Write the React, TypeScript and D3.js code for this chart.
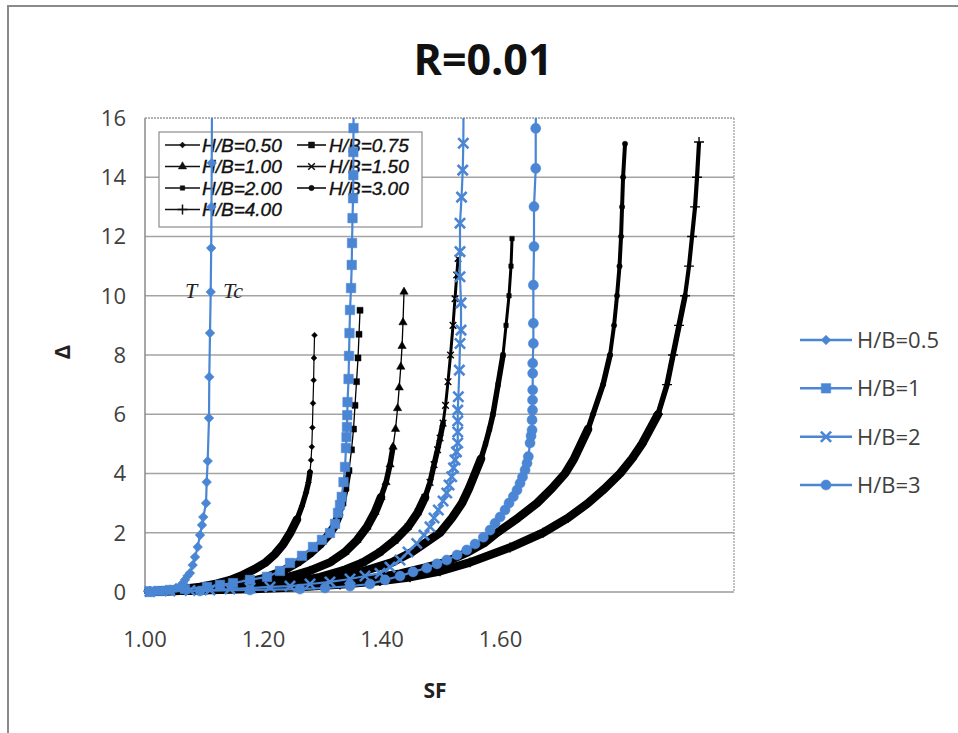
import React from 'react';
import * as d3 from 'd3';

// ---------------- data ----------------
const xTickValues = [1.0, 1.2, 1.4, 1.6];
const yTickValues = [0, 2, 4, 6, 8, 10, 12, 14, 16];
const xMin = 1.0;
const xMax = 1.994;

// black series (SF, Δ)
const sfHB050 = [1.0051, 1.0338, 1.0641, 1.0928, 1.1215, 1.1435, 1.1654, 1.1857, 1.2025, 1.2194, 1.2329, 1.2447, 1.2565, 1.265, 1.2717, 1.2759, 1.2785, 1.2802, 1.2815, 1.2825, 1.2835, 1.2846, 1.2852, 1.2861];
const dHB050 = [0.02, 0.05, 0.1, 0.17, 0.28, 0.4, 0.58, 0.78, 0.98, 1.28, 1.6, 1.98, 2.45, 2.9, 3.35, 3.7, 4.05, 4.45, 4.9, 5.55, 6.37, 7.15, 7.9, 8.67];

const sfHB075 = [1.0084, 1.0506, 1.0928, 1.135, 1.1688, 1.2025, 1.2312, 1.2582, 1.2785, 1.2954, 1.3089, 1.319, 1.3274, 1.3342, 1.3392, 1.3443, 1.3485, 1.3519, 1.3544, 1.357, 1.3595, 1.3612, 1.3629];
const dHB075 = [0.02, 0.06, 0.12, 0.2, 0.3, 0.48, 0.7, 1.0, 1.3, 1.6, 1.9, 2.2, 2.6, 3.0, 3.5, 4.1, 4.8, 5.5, 6.3, 7.1, 7.9, 8.7, 9.51];

const sfHB100 = [1.0084, 1.0591, 1.1097, 1.1603, 1.2025, 1.2447, 1.2785, 1.3122, 1.3376, 1.3578, 1.3747, 1.3882, 1.3983, 1.4068, 1.4135, 1.4186, 1.4228, 1.4262, 1.429, 1.4317, 1.4338, 1.4354, 1.4371];
const dHB100 = [0.02, 0.06, 0.12, 0.22, 0.35, 0.52, 0.72, 1.0, 1.35, 1.75, 2.2, 2.7, 3.2, 3.7, 4.3, 4.9, 5.5, 6.2, 6.9, 7.6, 8.3, 9.1, 10.13];

const sfHB150 = [1.0084, 1.0759, 1.1435, 1.2025, 1.2532, 1.2954, 1.3376, 1.3679, 1.3966, 1.4219, 1.4439, 1.4608, 1.4726, 1.481, 1.4878, 1.4937, 1.4979, 1.503, 1.5072, 1.5114, 1.5156, 1.5198, 1.5232, 1.5261, 1.5283];
const dHB150 = [0.02, 0.06, 0.12, 0.22, 0.35, 0.5, 0.75, 1.0, 1.35, 1.75, 2.2, 2.7, 3.2, 3.7, 4.3, 4.8, 5.2, 5.7, 6.3, 7.1, 8.0, 9.0, 9.9, 10.7, 11.26];

const sfHB200 = [1.0084, 1.0928, 1.1688, 1.2363, 1.2869, 1.3291, 1.3764, 1.4169, 1.4506, 1.4759, 1.4979, 1.5181, 1.535, 1.5468, 1.557, 1.5671, 1.5747, 1.5814, 1.5873, 1.5958, 1.6042, 1.6093, 1.6143, 1.6177, 1.6194];
const dHB200 = [0.02, 0.06, 0.13, 0.24, 0.37, 0.5, 0.75, 1.0, 1.35, 1.7, 2.0, 2.5, 3.0, 3.5, 4.0, 4.5, 5.0, 5.5, 6.0, 7.0, 8.0, 9.0, 10.0, 11.0, 11.93];

const sfHB300 = [1.0084, 1.1266, 1.2616, 1.3291, 1.3797, 1.4304, 1.4726, 1.5063, 1.5451, 1.5722, 1.5941, 1.6295, 1.6616, 1.6869, 1.7089, 1.7241, 1.7359, 1.7477, 1.7561, 1.773, 1.7848, 1.7916, 1.7966, 1.8008, 1.8034, 1.8051, 1.8068, 1.8101];
const dHB300 = [0.02, 0.09, 0.22, 0.33, 0.45, 0.62, 0.82, 1.0, 1.35, 1.65, 2.0, 2.5, 3.0, 3.5, 4.0, 4.5, 5.0, 5.5, 6.0, 7.0, 8.0, 9.0, 10.0, 11.0, 12.0, 13.0, 14.0, 15.13];

const sfHB400 = [1.0084, 1.1772, 1.2616, 1.3291, 1.3966, 1.4473, 1.4979, 1.5485, 1.616, 1.6717, 1.7139, 1.7477, 1.7764, 1.8017, 1.8219, 1.8388, 1.8658, 1.881, 1.8911, 1.9013, 1.9114, 1.9181, 1.9232, 1.9283, 1.9316, 1.935];
const dHB400 = [0.02, 0.1, 0.17, 0.25, 0.37, 0.5, 0.7, 1.0, 1.5, 2.0, 2.5, 3.0, 3.5, 4.0, 4.5, 5.0, 6.0, 7.0, 8.0, 9.0, 10.0, 11.0, 12.0, 13.0, 14.0, 15.19];

// blue series (SF, Δ)
const sfB05 = [1.0051, 1.0169, 1.0304, 1.0422, 1.0523, 1.0591, 1.0641, 1.0675, 1.0717, 1.0759, 1.0805, 1.0844, 1.0889, 1.0928, 1.0962, 1.0984, 1.103, 1.1041, 1.1058, 1.108, 1.1085, 1.1097, 1.1109, 1.1117, 1.1122, 1.1126, 1.1131];
const dB05 = [0.03, 0.03, 0.05, 0.08, 0.14, 0.2, 0.3, 0.41, 0.54, 0.64, 0.91, 1.18, 1.52, 1.92, 2.26, 2.53, 3.0, 3.71, 4.42, 5.87, 7.26, 8.74, 10.13, 11.61, 13.0, 14.48, 16.6];

const sfB1 = [1.0084, 1.0253, 1.0422, 1.0675, 1.1046, 1.1266, 1.1485, 1.1772, 1.2059, 1.2278, 1.2447, 1.265, 1.2835, 1.2987, 1.3122, 1.3207, 1.3257, 1.3291, 1.332, 1.335, 1.3376, 1.3392, 1.3401, 1.3409, 1.3413, 1.3418, 1.3435, 1.3443, 1.3451, 1.346, 1.3477, 1.3489, 1.3494, 1.3502, 1.3511, 1.3516, 1.3516, 1.3519, 1.3521];
const dB1 = [0.0, 0.034, 0.068, 0.1, 0.17, 0.24, 0.3, 0.41, 0.51, 0.71, 0.98, 1.22, 1.52, 1.76, 1.99, 2.3, 2.67, 2.94, 3.21, 3.71, 4.22, 4.86, 5.23, 5.57, 5.97, 6.41, 7.19, 7.97, 8.74, 9.52, 10.26, 11.04, 11.78, 12.62, 13.29, 14.07, 14.85, 15.66, 16.68];

const sfB2 = [1.0084, 1.0422, 1.0759, 1.1097, 1.1435, 1.1772, 1.211, 1.2447, 1.2785, 1.3122, 1.346, 1.3713, 1.3966, 1.4135, 1.4304, 1.4439, 1.4586, 1.4709, 1.481, 1.4878, 1.495, 1.503, 1.5092, 1.5131, 1.5176, 1.5207, 1.5232, 1.5257, 1.5278, 1.5278, 1.5278, 1.5278, 1.5288, 1.5305, 1.5316, 1.5333, 1.5333, 1.5316, 1.5316, 1.5316, 1.5342, 1.5362, 1.5372, 1.5376];
const dB2 = [0.017, 0.034, 0.05, 0.068, 0.1, 0.135, 0.17, 0.2, 0.27, 0.34, 0.44, 0.54, 0.63, 0.84, 1.08, 1.35, 1.64, 1.92, 2.2, 2.5, 2.77, 3.07, 3.34, 3.61, 3.89, 4.19, 4.46, 4.73, 5.03, 5.4, 5.77, 6.14, 6.59, 7.49, 8.39, 8.84, 9.76, 10.64, 11.49, 12.45, 13.33, 14.24, 15.15, 16.6];

const sfB3 = [1.0084, 1.0928, 1.1772, 1.2616, 1.3038, 1.346, 1.3797, 1.4051, 1.4304, 1.4523, 1.4754, 1.4928, 1.5092, 1.5266, 1.543, 1.557, 1.571, 1.5823, 1.5907, 1.5992, 1.6076, 1.6143, 1.6216, 1.6278, 1.6329, 1.6371, 1.6414, 1.6447, 1.6469, 1.6498, 1.6515, 1.6532, 1.6532, 1.654, 1.654, 1.6543, 1.6543, 1.6543, 1.6554, 1.6554, 1.6554, 1.6565, 1.6565, 1.6594, 1.6594, 1.6599];
const dB3 = [0.017, 0.034, 0.068, 0.1, 0.135, 0.2, 0.27, 0.41, 0.54, 0.68, 0.81, 0.95, 1.08, 1.25, 1.42, 1.62, 1.85, 2.09, 2.32, 2.53, 2.77, 3.0, 3.22, 3.44, 3.67, 3.88, 4.12, 4.35, 4.57, 5.03, 5.27, 5.47, 5.81, 6.14, 6.48, 6.82, 7.38, 7.72, 8.39, 9.07, 10.36, 11.66, 13.01, 14.3, 15.65, 16.6];

const blackLabels = ['H/B=0.50', 'H/B=0.75', 'H/B=1.00', 'H/B=1.50', 'H/B=2.00', 'H/B=3.00', 'H/B=4.00'];
const blueLabels = ['H/B=0.5', 'H/B=1', 'H/B=2', 'H/B=3'];
const titleText = 'R=0.01';

// ---------------- styling ----------------
const BLUE = '#4a86d4';
const diamond2: any = (d3 as any).symbolDiamond2 || d3.symbolDiamond;

const blackSeries = [
  { sf: sfHB050, d: dHB050, sym: diamond2, size: 22, fill: true, steep: 1.2 },
  { sf: sfHB075, d: dHB075, sym: d3.symbolSquare, size: 36, fill: true, steep: 1.3 },
  { sf: sfHB100, d: dHB100, sym: d3.symbolTriangle, size: 30, fill: true, steep: 1.3 },
  { sf: sfHB150, d: dHB150, sym: d3.symbolTimes, size: 30, fill: false, steep: 3 },
  { sf: sfHB200, d: dHB200, sym: d3.symbolSquare, size: 20, fill: true, steep: 3 },
  { sf: sfHB300, d: dHB300, sym: d3.symbolCircle, size: 22, fill: true, steep: 4 },
  { sf: sfHB400, d: dHB400, sym: d3.symbolPlus, size: 34, fill: false, steep: 4.2 },
];

const blueSeries = [
  { sf: sfB05, d: dB05, sym: diamond2, size: 60, fill: true },
  { sf: sfB1, d: dB1, sym: d3.symbolSquare, size: 90, fill: true },
  { sf: sfB2, d: dB2, sym: d3.symbolTimes, size: 70, fill: false },
  { sf: sfB3, d: dB3, sym: d3.symbolCircle, size: 80, fill: true },
];

const W = 958, H = 733;
const L = 145, R = 734, T = 118, B = 592;

function Marker({ sym, size, fill, color, x, y, sw = 1.5 }: any) {
  const p = d3.symbol().type(sym).size(size)() as string;
  return (
    <path
      d={p}
      transform={`translate(${x},${y})`}
      fill={fill ? color : 'none'}
      stroke={color}
      strokeWidth={fill ? 0.5 : sw}
    />
  );
}

export default function App() {
  const x = d3.scaleLinear().domain([xMin, xMax]).range([L, R]);
  const y = d3.scaleLinear().domain([0, 16]).range([B, T]);
  const line = d3
    .line<[number, number]>()
    .x((p) => p[0])
    .y((p) => p[1])
    .curve(d3.curveLinear);

  const toPx = (sf: number[], d: number[]) => sf.map((v, i) => [x(v), y(d[i])] as [number, number]);

  const prefixUntilSlope = (pts: [number, number][], maxS: number) => {
    let k = pts.length;
    for (let i = 0; i < pts.length - 1; i++) {
      const dx = Math.abs(pts[i + 1][0] - pts[i][0]);
      const dy = Math.abs(pts[i + 1][1] - pts[i][1]);
      if (dy > maxS * Math.max(dx, 0.001)) {
        k = i + 1;
        break;
      }
    }
    return pts.slice(0, k);
  };

  const font = "'Open Sans', 'DejaVu Sans', sans-serif";

  const legRows = [145, 166.5, 188, 209.5];
  const legCols = [
    { l0: 165, l1: 200, tx: 202 },
    { l0: 297, l1: 326, tx: 329 },
  ];

  const rightRows = [340, 388.3, 436.7, 485];

  return (
    <svg
      width={W}
      height={H}
      viewBox={`0 0 ${W} ${H}`}
      style={{ position: 'absolute', left: 0, top: 0, background: '#fff' }}
    >
      <defs>
        <clipPath id="plotclip">
          <rect x={0} y={T} width={W} height={H - T} />
        </clipPath>
      </defs>
      <rect x={0} y={0} width={W} height={H} fill="#fff" />
      <rect x={8} y={6} width={970} height={760} fill="none" stroke="#8a8a8a" strokeWidth={2} />

      <text x={483} y={75} textAnchor="middle" fontFamily={font} fontWeight="bold" fontSize={43} fill="#111">
        {titleText}
      </text>

      {yTickValues
        .filter((v) => v > 0 && v < 16)
        .map((v) => (
          <line key={v} x1={L} x2={R} y1={y(v)} y2={y(v)} stroke="#a3a3a3" strokeWidth={1.3} />
        ))}
      <line x1={L} x2={R} y1={T} y2={T} stroke="#9a9a9a" strokeWidth={1.5} strokeDasharray="2,1" />
      <line x1={R} x2={R} y1={T} y2={B} stroke="#9a9a9a" strokeWidth={1.2} strokeDasharray="2,1" />
      <line x1={L} x2={R} y1={B} y2={B} stroke="#9a9a9a" strokeWidth={1.5} />
      <line x1={L} x2={L} y1={T} y2={B} stroke="#8a8a8a" strokeWidth={1.5} />

      {yTickValues.map((v) => (
        <text key={v} x={126} y={y(v)} dy="0.36em" textAnchor="end" fontFamily={font} fontSize={22} fill="#404040">
          {v}
        </text>
      ))}
      {xTickValues.map((v) => (
        <text key={v} x={x(v)} y={647} textAnchor="middle" fontFamily={font} fontSize={22} fill="#404040">
          {v.toFixed(2)}
        </text>
      ))}
      <text x={435} y={698} textAnchor="middle" fontFamily={font} fontWeight="bold" fontSize={21} fill="#222">
        SF
      </text>
      <text
        x={0}
        y={0}
        transform="translate(62,352) rotate(-90)"
        dy="0.36em"
        textAnchor="middle"
        fontFamily={font}
        fontWeight="bold"
        fontSize={22}
        fill="#222"
      >
        Δ
      </text>

      <rect x={159} y={132} width={263} height={95} fill="#fff" stroke="#8c8c8c" strokeWidth={1.2} />
      {blackLabels.map((lab, i) => {
        const row = Math.floor(i / 2);
        const col = legCols[i % 2];
        const yy = legRows[row];
        const s = blackSeries[i];
        return (
          <g key={lab}>
            <line x1={col.l0} x2={col.l1} y1={yy} y2={yy} stroke="#111" strokeWidth={1.6} />
            <Marker sym={s.sym} size={s.size} fill={s.fill} color="#111" x={(col.l0 + col.l1) / 2} y={yy} />
            <text
              x={col.tx}
              y={yy}
              dy="0.36em"
              fontFamily="'Liberation Sans', Arial, sans-serif"
              fontStyle="italic"
              fontSize={19}
              fill="#111"
              stroke="#111"
              strokeWidth={0.35}
            >
              {lab}
            </text>
          </g>
        );
      })}

      <text x={185} y={298} fontFamily="'Liberation Serif', 'DejaVu Serif', serif" fontStyle="italic" fontSize={22} fill="#222">
        T
      </text>
      <text x={223} y={298} fontFamily="'Liberation Serif', 'DejaVu Serif', serif" fontStyle="italic" fontSize={22} fill="#222">
        Tc
      </text>

      <g clipPath="url(#plotclip)">
        {blackSeries.map((s, i) => {
          const pts = toPx(s.sf, s.d);
          const band1 = prefixUntilSlope(pts, 2.6);
          const band2 = prefixUntilSlope(pts, 7);
          return (
            <g key={'b' + i}>
              <path d={line(pts) || ''} fill="none" stroke="#000" strokeWidth={s.steep} strokeLinejoin="round" />
              <path d={line(band2) || ''} fill="none" stroke="#000" strokeWidth={5.5} strokeLinejoin="round" strokeLinecap="round" />
              <path d={line(band1) || ''} fill="none" stroke="#000" strokeWidth={8.5} strokeLinejoin="round" strokeLinecap="round" />
              {pts.map((p, j) => (
                <Marker key={j} sym={s.sym} size={s.size} fill={s.fill} color="#000" x={p[0]} y={p[1]} sw={1.4} />
              ))}
            </g>
          );
        })}
        {blueSeries.map((s, i) => {
          const pts = toPx(s.sf, s.d);
          return (
            <g key={'u' + i}>
              <path d={line(pts) || ''} fill="none" stroke={BLUE} strokeWidth={2.2} strokeLinejoin="round" />
              {pts.map((p, j) => (
                <Marker key={j} sym={s.sym} size={s.size} fill={s.fill} color={BLUE} x={p[0]} y={p[1]} sw={2.6} />
              ))}
            </g>
          );
        })}
      </g>

      {blueLabels.map((lab, i) => {
        const yy = rightRows[i];
        const s = blueSeries[i];
        return (
          <g key={lab}>
            <line x1={800} x2={852} y1={yy} y2={yy} stroke={BLUE} strokeWidth={2.4} />
            <Marker sym={s.sym} size={s.size} fill={s.fill} color={BLUE} x={826} y={yy} sw={2.6} />
            <text x={857} y={yy} dy="0.36em" fontFamily={font} fontSize={22} fill="#404040">
              {lab}
            </text>
          </g>
        );
      })}
    </svg>
  );
}
